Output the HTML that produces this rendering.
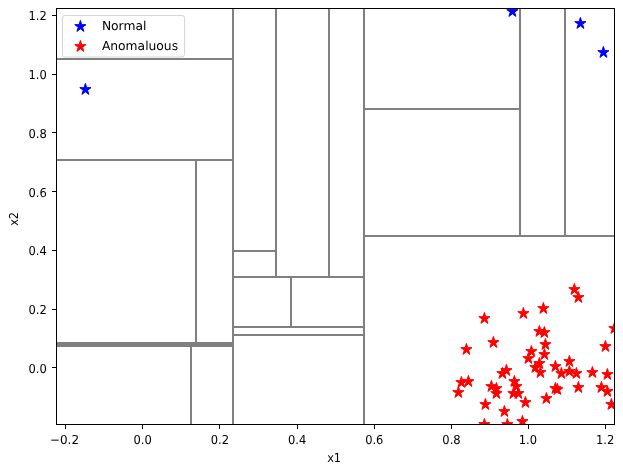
<!DOCTYPE html>
<html><head><meta charset="utf-8"><title>plot</title>
<style>html,body{margin:0;padding:0;background:#fff}svg{display:block;will-change:transform}text{font-family:"DejaVu Sans","Liberation Sans",sans-serif;font-size:12.3px;fill:#000;text-rendering:geometricPrecision}</style></head>
<body>
<svg width="623" height="473" viewBox="0 0 623 473">
<rect width="623" height="473" fill="#fff"/>
<defs><clipPath id="ax"><rect x="56.5" y="8.5" width="558.0" height="416.0"/></clipPath></defs>
<g clip-path="url(#ax)">
<g stroke="#808080" stroke-width="2" fill="none">
<line x1="233" y1="7.5" x2="233" y2="425.5"/>
<line x1="276" y1="7.5" x2="276" y2="278"/>
<line x1="329" y1="7.5" x2="329" y2="278"/>
<line x1="364" y1="7.5" x2="364" y2="425.5"/>
<line x1="520" y1="7.5" x2="520" y2="237"/>
<line x1="565" y1="7.5" x2="565" y2="237"/>
<line x1="196" y1="159" x2="196" y2="344"/>
<line x1="191" y1="344.5" x2="191" y2="425.5"/>
<line x1="291" y1="276" x2="291" y2="328"/>
<line x1="56.5" y1="59" x2="234" y2="59"/>
<line x1="56.5" y1="160" x2="234" y2="160"/>
<line x1="233" y1="251" x2="277" y2="251"/>
<line x1="233" y1="277" x2="365" y2="277"/>
<line x1="233" y1="327" x2="365" y2="327"/>
<line x1="233" y1="335" x2="365" y2="335"/>
<line x1="364" y1="109" x2="521" y2="109"/>
<line x1="364" y1="236" x2="615.5" y2="236"/>
</g>
<rect x="56.5" y="342" width="177.5" height="5" fill="#808080"/>
<g fill="#0000ff" stroke="#0000ff" stroke-width="1.0" stroke-linejoin="bevel">
<polygon points="85.40,83.45 84.08,87.63 79.79,87.63 83.26,90.21 81.93,94.39 85.40,91.81 88.87,94.39 87.54,90.21 91.01,87.63 86.72,87.63"/>
<polygon points="512.40,5.45 511.08,9.63 506.79,9.63 510.26,12.21 508.93,16.39 512.40,13.81 515.87,16.39 514.54,12.21 518.01,9.63 513.72,9.63"/>
<polygon points="580.40,17.45 579.08,21.63 574.79,21.63 578.26,24.21 576.93,28.39 580.40,25.81 583.87,28.39 582.54,24.21 586.01,21.63 581.72,21.63"/>
<polygon points="603.40,46.45 602.08,50.63 597.79,50.63 601.26,53.21 599.93,57.39 603.40,54.81 606.87,57.39 605.54,53.21 609.01,50.63 604.72,50.63"/>
</g>
<g fill="#ff0000" stroke="#ff0000" stroke-width="1.0" stroke-linejoin="bevel">
<polygon points="484.40,312.45 483.08,316.63 478.79,316.63 482.26,319.21 480.93,323.39 484.40,320.81 487.87,323.39 486.54,319.21 490.01,316.63 485.72,316.63"/>
<polygon points="523.40,307.45 522.08,311.63 517.79,311.63 521.26,314.21 519.93,318.39 523.40,315.81 526.87,318.39 525.54,314.21 529.01,311.63 524.72,311.63"/>
<polygon points="543.40,302.45 542.08,306.63 537.79,306.63 541.26,309.21 539.93,313.39 543.40,310.81 546.87,313.39 545.54,309.21 549.01,306.63 544.72,306.63"/>
<polygon points="574.40,283.45 573.08,287.63 568.79,287.63 572.26,290.21 570.93,294.39 574.40,291.81 577.87,294.39 576.54,290.21 580.01,287.63 575.72,287.63"/>
<polygon points="578.40,291.45 577.08,295.63 572.79,295.63 576.26,298.21 574.93,302.39 578.40,299.81 581.87,302.39 580.54,298.21 584.01,295.63 579.72,295.63"/>
<polygon points="466.40,343.45 465.08,347.63 460.79,347.63 464.26,350.21 462.93,354.39 466.40,351.81 469.87,354.39 468.54,350.21 472.01,347.63 467.72,347.63"/>
<polygon points="493.40,336.45 492.08,340.63 487.79,340.63 491.26,343.21 489.93,347.39 493.40,344.81 496.87,347.39 495.54,343.21 499.01,340.63 494.72,340.63"/>
<polygon points="614.40,322.45 613.08,326.63 608.79,326.63 612.26,329.21 610.93,333.39 614.40,330.81 617.87,333.39 616.54,329.21 620.01,326.63 615.72,326.63"/>
<polygon points="605.40,340.45 604.08,344.63 599.79,344.63 603.26,347.21 601.93,351.39 605.40,348.81 608.87,351.39 607.54,347.21 611.01,344.63 606.72,344.63"/>
<polygon points="539.40,325.45 538.08,329.63 533.79,329.63 537.26,332.21 535.93,336.39 539.40,333.81 542.87,336.39 541.54,332.21 545.01,329.63 540.72,329.63"/>
<polygon points="544.40,326.45 543.08,330.63 538.79,330.63 542.26,333.21 540.93,337.39 544.40,334.81 547.87,337.39 546.54,333.21 550.01,330.63 545.72,330.63"/>
<polygon points="545.40,338.45 544.08,342.63 539.79,342.63 543.26,345.21 541.93,349.39 545.40,346.81 548.87,349.39 547.54,345.21 551.01,342.63 546.72,342.63"/>
<polygon points="531.40,345.45 530.08,349.63 525.79,349.63 529.26,352.21 527.93,356.39 531.40,353.81 534.87,356.39 533.54,352.21 537.01,349.63 532.72,349.63"/>
<polygon points="544.40,348.45 543.08,352.63 538.79,352.63 542.26,355.21 540.93,359.39 544.40,356.81 547.87,359.39 546.54,355.21 550.01,352.63 545.72,352.63"/>
<polygon points="528.40,352.45 527.08,356.63 522.79,356.63 526.26,359.21 524.93,363.39 528.40,360.81 531.87,363.39 530.54,359.21 534.01,356.63 529.72,356.63"/>
<polygon points="539.40,357.45 538.08,361.63 533.79,361.63 537.26,364.21 535.93,368.39 539.40,365.81 542.87,368.39 541.54,364.21 545.01,361.63 540.72,361.63"/>
<polygon points="535.40,361.45 534.08,365.63 529.79,365.63 533.26,368.21 531.93,372.39 535.40,369.81 538.87,372.39 537.54,368.21 541.01,365.63 536.72,365.63"/>
<polygon points="540.40,366.45 539.08,370.63 534.79,370.63 538.26,373.21 536.93,377.39 540.40,374.81 543.87,377.39 542.54,373.21 546.01,370.63 541.72,370.63"/>
<polygon points="555.40,360.45 554.08,364.63 549.79,364.63 553.26,367.21 551.93,371.39 555.40,368.81 558.87,371.39 557.54,367.21 561.01,364.63 556.72,364.63"/>
<polygon points="569.40,355.45 568.08,359.63 563.79,359.63 567.26,362.21 565.93,366.39 569.40,363.81 572.87,366.39 571.54,362.21 575.01,359.63 570.72,359.63"/>
<polygon points="561.40,367.45 560.08,371.63 555.79,371.63 559.26,374.21 557.93,378.39 561.40,375.81 564.87,378.39 563.54,374.21 567.01,371.63 562.72,371.63"/>
<polygon points="569.40,365.45 568.08,369.63 563.79,369.63 567.26,372.21 565.93,376.39 569.40,373.81 572.87,376.39 571.54,372.21 575.01,369.63 570.72,369.63"/>
<polygon points="576.40,367.45 575.08,371.63 570.79,371.63 574.26,374.21 572.93,378.39 576.40,375.81 579.87,378.39 578.54,374.21 582.01,371.63 577.72,371.63"/>
<polygon points="592.40,366.45 591.08,370.63 586.79,370.63 590.26,373.21 588.93,377.39 592.40,374.81 595.87,377.39 594.54,373.21 598.01,370.63 593.72,370.63"/>
<polygon points="607.40,368.45 606.08,372.63 601.79,372.63 605.26,375.21 603.93,379.39 607.40,376.81 610.87,379.39 609.54,375.21 613.01,372.63 608.72,372.63"/>
<polygon points="578.40,381.45 577.08,385.63 572.79,385.63 576.26,388.21 574.93,392.39 578.40,389.81 581.87,392.39 580.54,388.21 584.01,385.63 579.72,385.63"/>
<polygon points="601.40,381.45 600.08,385.63 595.79,385.63 599.26,388.21 597.93,392.39 601.40,389.81 604.87,392.39 603.54,388.21 607.01,385.63 602.72,385.63"/>
<polygon points="607.40,385.45 606.08,389.63 601.79,389.63 605.26,392.21 603.93,396.39 607.40,393.81 610.87,396.39 609.54,392.21 613.01,389.63 608.72,389.63"/>
<polygon points="611.40,398.45 610.08,402.63 605.79,402.63 609.26,405.21 607.93,409.39 611.40,406.81 614.87,409.39 613.54,405.21 617.01,402.63 612.72,402.63"/>
<polygon points="555.40,382.45 554.08,386.63 549.79,386.63 553.26,389.21 551.93,393.39 555.40,390.81 558.87,393.39 557.54,389.21 561.01,386.63 556.72,386.63"/>
<polygon points="557.40,383.45 556.08,387.63 551.79,387.63 555.26,390.21 553.93,394.39 557.40,391.81 560.87,394.39 559.54,390.21 563.01,387.63 558.72,387.63"/>
<polygon points="546.40,392.45 545.08,396.63 540.79,396.63 544.26,399.21 542.93,403.39 546.40,400.81 549.87,403.39 548.54,399.21 552.01,396.63 547.72,396.63"/>
<polygon points="525.40,396.45 524.08,400.63 519.79,400.63 523.26,403.21 521.93,407.39 525.40,404.81 528.87,407.39 527.54,403.21 531.01,400.63 526.72,400.63"/>
<polygon points="506.40,364.45 505.08,368.63 500.79,368.63 504.26,371.21 502.93,375.39 506.40,372.81 509.87,375.39 508.54,371.21 512.01,368.63 507.72,368.63"/>
<polygon points="502.40,367.45 501.08,371.63 496.79,371.63 500.26,374.21 498.93,378.39 502.40,375.81 505.87,378.39 504.54,374.21 508.01,371.63 503.72,371.63"/>
<polygon points="514.40,375.45 513.08,379.63 508.79,379.63 512.26,382.21 510.93,386.39 514.40,383.81 517.87,386.39 516.54,382.21 520.01,379.63 515.72,379.63"/>
<polygon points="516.40,380.45 515.08,384.63 510.79,384.63 514.26,387.21 512.93,391.39 516.40,388.81 519.87,391.39 518.54,387.21 522.01,384.63 517.72,384.63"/>
<polygon points="513.40,387.45 512.08,391.63 507.79,391.63 511.26,394.21 509.93,398.39 513.40,395.81 516.87,398.39 515.54,394.21 519.01,391.63 514.72,391.63"/>
<polygon points="518.40,387.45 517.08,391.63 512.79,391.63 516.26,394.21 514.93,398.39 518.40,395.81 521.87,398.39 520.54,394.21 524.01,391.63 519.72,391.63"/>
<polygon points="491.40,380.45 490.08,384.63 485.79,384.63 489.26,387.21 487.93,391.39 491.40,388.81 494.87,391.39 493.54,387.21 497.01,384.63 492.72,384.63"/>
<polygon points="496.40,382.45 495.08,386.63 490.79,386.63 494.26,389.21 492.93,393.39 496.40,390.81 499.87,393.39 498.54,389.21 502.01,386.63 497.72,386.63"/>
<polygon points="496.40,387.45 495.08,391.63 490.79,391.63 494.26,394.21 492.93,398.39 496.40,395.81 499.87,398.39 498.54,394.21 502.01,391.63 497.72,391.63"/>
<polygon points="461.40,376.45 460.08,380.63 455.79,380.63 459.26,383.21 457.93,387.39 461.40,384.81 464.87,387.39 463.54,383.21 467.01,380.63 462.72,380.63"/>
<polygon points="468.40,375.45 467.08,379.63 462.79,379.63 466.26,382.21 464.93,386.39 468.40,383.81 471.87,386.39 470.54,382.21 474.01,379.63 469.72,379.63"/>
<polygon points="458.40,386.45 457.08,390.63 452.79,390.63 456.26,393.21 454.93,397.39 458.40,394.81 461.87,397.39 460.54,393.21 464.01,390.63 459.72,390.63"/>
<polygon points="485.40,398.45 484.08,402.63 479.79,402.63 483.26,405.21 481.93,409.39 485.40,406.81 488.87,409.39 487.54,405.21 491.01,402.63 486.72,402.63"/>
<polygon points="504.40,405.45 503.08,409.63 498.79,409.63 502.26,412.21 500.93,416.39 504.40,413.81 507.87,416.39 506.54,412.21 510.01,409.63 505.72,409.63"/>
<polygon points="522.40,415.45 521.08,419.63 516.79,419.63 520.26,422.21 518.93,426.39 522.40,423.81 525.87,426.39 524.54,422.21 528.01,419.63 523.72,419.63"/>
<polygon points="507.40,418.45 506.08,422.63 501.79,422.63 505.26,425.21 503.93,429.39 507.40,426.81 510.87,429.39 509.54,425.21 513.01,422.63 508.72,422.63"/>
<polygon points="484.40,418.45 483.08,422.63 478.79,422.63 482.26,425.21 480.93,429.39 484.40,426.81 487.87,429.39 486.54,425.21 490.01,422.63 485.72,422.63"/>
</g>
</g>
<rect x="56.5" y="8.5" width="558.0" height="416.0" fill="none" stroke="#000" stroke-width="1"/>
<g stroke="#000" stroke-width="1">
<line x1="65.5" y1="424.5" x2="65.5" y2="429.0"/>
<line x1="142.5" y1="424.5" x2="142.5" y2="429.0"/>
<line x1="219.5" y1="424.5" x2="219.5" y2="429.0"/>
<line x1="297.5" y1="424.5" x2="297.5" y2="429.0"/>
<line x1="374.5" y1="424.5" x2="374.5" y2="429.0"/>
<line x1="451.5" y1="424.5" x2="451.5" y2="429.0"/>
<line x1="528.5" y1="424.5" x2="528.5" y2="429.0"/>
<line x1="605.5" y1="424.5" x2="605.5" y2="429.0"/>
<line x1="52.0" y1="367.5" x2="56.5" y2="367.5"/>
<line x1="52.0" y1="309.5" x2="56.5" y2="309.5"/>
<line x1="52.0" y1="250.5" x2="56.5" y2="250.5"/>
<line x1="52.0" y1="191.5" x2="56.5" y2="191.5"/>
<line x1="52.0" y1="132.5" x2="56.5" y2="132.5"/>
<line x1="52.0" y1="74.5" x2="56.5" y2="74.5"/>
<line x1="52.0" y1="15.5" x2="56.5" y2="15.5"/>
</g>
<text transform="translate(64.50,443.6) scale(0.975,1)" text-anchor="middle">−0.2</text>
<text transform="translate(142.70,443.6) scale(0.935,1)" text-anchor="middle">0.0</text>
<text transform="translate(219.90,443.6) scale(0.935,1)" text-anchor="middle">0.2</text>
<text transform="translate(297.10,443.6) scale(0.935,1)" text-anchor="middle">0.4</text>
<text transform="translate(374.30,443.6) scale(0.935,1)" text-anchor="middle">0.6</text>
<text transform="translate(451.50,443.6) scale(0.935,1)" text-anchor="middle">0.8</text>
<text transform="translate(527.90,443.6) scale(0.935,1)" text-anchor="middle">1.0</text>
<text transform="translate(605.10,443.6) scale(0.935,1)" text-anchor="middle">1.2</text>
<text transform="translate(46.75,373.25) scale(0.935,1)" text-anchor="end">0.0</text>
<text transform="translate(46.75,314.25) scale(0.935,1)" text-anchor="end">0.2</text>
<text transform="translate(46.75,255.25) scale(0.935,1)" text-anchor="end">0.4</text>
<text transform="translate(46.75,197.25) scale(0.935,1)" text-anchor="end">0.6</text>
<text transform="translate(46.75,138.25) scale(0.935,1)" text-anchor="end">0.8</text>
<text transform="translate(46.75,79.25) scale(0.935,1)" text-anchor="end">1.0</text>
<text transform="translate(46.75,20.25) scale(0.935,1)" text-anchor="end">1.2</text>
<text transform="translate(334.1,461.5) scale(0.92,1)" text-anchor="middle">x1</text>
<text transform="translate(18.1,218.9) rotate(-90) scale(0.92,1)" text-anchor="middle">x2</text>
<rect x="62.5" y="15.5" width="122" height="41.5" rx="2.5" ry="2.5" fill="#fff" fill-opacity="0.8" stroke="#cccccc" stroke-opacity="0.8" stroke-width="1"/>
<polygon points="80.40,20.45 79.08,24.63 74.79,24.63 78.26,27.21 76.93,31.39 80.40,28.81 83.87,31.39 82.54,27.21 86.01,24.63 81.72,24.63" fill="#0000ff" stroke="#0000ff" stroke-width="1.0" stroke-linejoin="bevel"/>
<polygon points="80.40,40.45 79.08,44.63 74.79,44.63 78.26,47.21 76.93,51.39 80.40,48.81 83.87,51.39 82.54,47.21 86.01,44.63 81.72,44.63" fill="#ff0000" stroke="#ff0000" stroke-width="1.0" stroke-linejoin="bevel"/>
<text x="101.9" y="29.8">Normal</text>
<text x="101.9" y="49.9">Anomaluous</text>
</svg>
</body></html>
